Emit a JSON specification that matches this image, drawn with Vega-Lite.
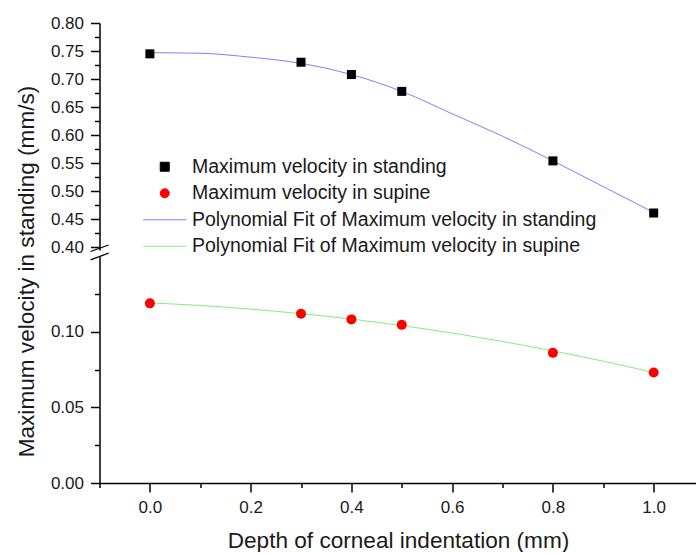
{
  "$schema": "https://vega.github.io/schema/vega-lite/v6.json",
  "padding": {"top": 14, "left": 14.5, "right": 0, "bottom": 0},
  "background": "white",
  "config": {
    "view": {"stroke": null},
    "font": "Liberation Sans",
    "axis": {
      "grid": false,
      "domainColor": "#000000",
      "domainWidth": 1.5,
      "tickColor": "#000000",
      "tickWidth": 1.5,
      "labelFont": "Liberation Sans",
      "labelFontSize": 17,
      "labelColor": "#1a1a1a",
      "labelPadding": 7,
      "labelOverlap": false,
      "labelBound": false,
      "titleFont": "Liberation Sans",
      "titleFontSize": 22.6,
      "titleFontWeight": "normal",
      "titleColor": "#1a1a1a"
    }
  },
  "datasets": {
    "standingPoints": [
      {"depth": 0.0, "velocity": 0.745, "series": "Maximum velocity in standing"},
      {"depth": 0.3, "velocity": 0.730, "series": "Maximum velocity in standing"},
      {"depth": 0.4, "velocity": 0.708, "series": "Maximum velocity in standing"},
      {"depth": 0.5, "velocity": 0.678, "series": "Maximum velocity in standing"},
      {"depth": 0.8, "velocity": 0.554, "series": "Maximum velocity in standing"},
      {"depth": 1.0, "velocity": 0.461, "series": "Maximum velocity in standing"}
    ],
    "standingFit": [
      {"depth": 0.0, "velocity": 0.747, "series": "Polynomial Fit of Maximum velocity in standing"},
      {"depth": 0.1, "velocity": 0.746, "series": "Polynomial Fit of Maximum velocity in standing"},
      {"depth": 0.2, "velocity": 0.739, "series": "Polynomial Fit of Maximum velocity in standing"},
      {"depth": 0.3, "velocity": 0.728, "series": "Polynomial Fit of Maximum velocity in standing"},
      {"depth": 0.4, "velocity": 0.708, "series": "Polynomial Fit of Maximum velocity in standing"},
      {"depth": 0.5, "velocity": 0.678, "series": "Polynomial Fit of Maximum velocity in standing"},
      {"depth": 0.6, "velocity": 0.638, "series": "Polynomial Fit of Maximum velocity in standing"},
      {"depth": 0.7, "velocity": 0.598, "series": "Polynomial Fit of Maximum velocity in standing"},
      {"depth": 0.8, "velocity": 0.554, "series": "Polynomial Fit of Maximum velocity in standing"},
      {"depth": 0.9, "velocity": 0.508, "series": "Polynomial Fit of Maximum velocity in standing"},
      {"depth": 1.0, "velocity": 0.462, "series": "Polynomial Fit of Maximum velocity in standing"}
    ],
    "supinePoints": [
      {"depth": 0.0, "velocity": 0.1187, "series": "Maximum velocity in supine"},
      {"depth": 0.3, "velocity": 0.1118, "series": "Maximum velocity in supine"},
      {"depth": 0.4, "velocity": 0.1081, "series": "Maximum velocity in supine"},
      {"depth": 0.5, "velocity": 0.1045, "series": "Maximum velocity in supine"},
      {"depth": 0.8, "velocity": 0.0860, "series": "Maximum velocity in supine"},
      {"depth": 1.0, "velocity": 0.0730, "series": "Maximum velocity in supine"}
    ],
    "supineFit": [
      {"depth": 0.0, "velocity": 0.1190, "series": "Polynomial Fit of Maximum velocity in supine"},
      {"depth": 0.1, "velocity": 0.1173, "series": "Polynomial Fit of Maximum velocity in supine"},
      {"depth": 0.2, "velocity": 0.1149, "series": "Polynomial Fit of Maximum velocity in supine"},
      {"depth": 0.3, "velocity": 0.1119, "series": "Polynomial Fit of Maximum velocity in supine"},
      {"depth": 0.4, "velocity": 0.1083, "series": "Polynomial Fit of Maximum velocity in supine"},
      {"depth": 0.5, "velocity": 0.1040, "series": "Polynomial Fit of Maximum velocity in supine"},
      {"depth": 0.6, "velocity": 0.0991, "series": "Polynomial Fit of Maximum velocity in supine"},
      {"depth": 0.7, "velocity": 0.0935, "series": "Polynomial Fit of Maximum velocity in supine"},
      {"depth": 0.8, "velocity": 0.0873, "series": "Polynomial Fit of Maximum velocity in supine"},
      {"depth": 0.9, "velocity": 0.0805, "series": "Polynomial Fit of Maximum velocity in supine"},
      {"depth": 1.0, "velocity": 0.0730, "series": "Polynomial Fit of Maximum velocity in supine"}
    ],
    "breakTop": [
      {"depth": -0.1177, "velocity": 0.3923, "depth2": -0.0819, "velocity2": 0.4039}
    ],
    "breakBottom": [
      {"depth": -0.1177, "velocity": 0.1475, "depth2": -0.0819, "velocity2": 0.1519}
    ]
  },
  "bounds": "flush",
  "spacing": 6,
  "resolve": {"scale": {"x": "independent", "y": "independent", "fill": "independent", "stroke": "independent", "shape": "independent"}},
  "vconcat": [
    {
      "width": 597,
      "height": 227,
      "encoding": {
        "x": {"field": "depth", "type": "quantitative", "scale": {"domain": [-0.1, 1.085], "nice": false, "zero": false}, "axis": null},
        "y": {
          "field": "velocity", "type": "quantitative",
          "scale": {"domain": [0.395, 0.80], "nice": false, "zero": false},
          "axis": {
            "title": "Maximum velocity in standing (mm/s)",
            "values": [0.4, 0.425, 0.45, 0.475, 0.5, 0.525, 0.55, 0.575, 0.6, 0.625, 0.65, 0.675, 0.7, 0.725, 0.75, 0.775, 0.8],
            "labelExpr": "abs(datum.value*20 - round(datum.value*20)) < 0.01 ? format(datum.value, '.2f') : ''",
            "tickSize": {"condition": {"test": "abs(datum.value*20 - round(datum.value*20)) < 0.01", "value": 9}, "value": 5},
            "titleAngle": 270, "titleAlign": "center", "titleBaseline": "alphabetic",
            "titleX": -66, "titleY": 248
          }
        }
      },
      "layer": [
        {
          "data": {"name": "standingFit"},
          "mark": {"type": "line", "strokeWidth": 1, "interpolate": "monotone"},
          "encoding": {
            "stroke": {
              "field": "series", "type": "nominal",
              "scale": {
                "domain": ["Maximum velocity in standing", "Maximum velocity in supine", "Polynomial Fit of Maximum velocity in standing", "Polynomial Fit of Maximum velocity in supine"],
                "range": ["#000000", "#ff0000", "#7f7fff", "#80f080"]
              },
              "legend": {
                "orient": "none", "legendX": 43.5, "legendY": 134, "title": null,
                "labelFont": "Liberation Sans", "labelFontSize": 19.5, "labelColor": "#1a1a1a", "labelLimit": 600,
                "symbolSize": 81, "symbolStrokeWidth": 1, "symbolOffset": 12, "labelOffset": 17.5,
                "rowPadding": 5.5, "padding": 0
              }
            }
          }
        },
        {
          "data": {"name": "standingPoints"},
          "mark": {"type": "point", "filled": true, "opacity": 1, "size": 81, "strokeWidth": 0},
          "encoding": {
            "fill": {
              "field": "series", "type": "nominal",
              "scale": {
                "domain": ["Maximum velocity in standing", "Maximum velocity in supine", "Polynomial Fit of Maximum velocity in standing", "Polynomial Fit of Maximum velocity in supine"],
                "range": ["#000000", "#ff0000", "#7f7fff", "#80f080"]
              }
            },
            "shape": {
              "field": "series", "type": "nominal",
              "scale": {
                "domain": ["Maximum velocity in standing", "Maximum velocity in supine", "Polynomial Fit of Maximum velocity in standing", "Polynomial Fit of Maximum velocity in supine"],
                "range": ["square", "circle", "M-4.8,0H4.8", "M-4.8,0H4.8"]
              }
            }
          }
        },
        {
          "data": {"name": "breakTop"},
          "mark": {"type": "rule", "color": "#000000", "strokeWidth": 1.3},
          "encoding": {
            "x2": {"field": "depth2"},
            "y2": {"field": "velocity2"}
          }
        }
      ]
    },
    {
      "width": 597,
      "height": 227,
      "encoding": {
        "x": {
          "field": "depth", "type": "quantitative",
          "scale": {"domain": [-0.1, 1.085], "nice": false, "zero": false},
          "axis": {
            "title": "Depth of corneal indentation (mm)",
            "values": [-0.1, 0, 0.1, 0.2, 0.3, 0.4, 0.5, 0.6, 0.7, 0.8, 0.9, 1.0],
            "labelExpr": "datum.value >= 0 && abs(datum.value*5 - round(datum.value*5)) < 0.01 ? format(datum.value, '.1f') : ''",
            "tickSize": {"condition": {"test": "datum.value >= 0 && abs(datum.value*5 - round(datum.value*5)) < 0.01", "value": 9}, "value": 4.5},
            "labelPadding": 7,
            "titlePadding": 14
          }
        },
        "y": {
          "field": "velocity", "type": "quantitative",
          "scale": {"domain": [0, 0.15], "nice": false, "zero": false},
          "axis": {
            "title": null,
            "values": [0, 0.025, 0.05, 0.075, 0.1, 0.125],
            "labelExpr": "abs(datum.value*20 - round(datum.value*20)) < 0.01 ? format(datum.value, '.2f') : ''",
            "tickSize": {"condition": {"test": "abs(datum.value*20 - round(datum.value*20)) < 0.01", "value": 9}, "value": 5}
          }
        }
      },
      "layer": [
        {
          "data": {"name": "supineFit"},
          "mark": {"type": "line", "strokeWidth": 1, "interpolate": "monotone"},
          "encoding": {
            "stroke": {
              "field": "series", "type": "nominal",
              "scale": {
                "domain": ["Maximum velocity in standing", "Maximum velocity in supine", "Polynomial Fit of Maximum velocity in standing", "Polynomial Fit of Maximum velocity in supine"],
                "range": ["#000000", "#ff0000", "#7f7fff", "#80f080"]
              },
              "legend": null
            }
          }
        },
        {
          "data": {"name": "supinePoints"},
          "mark": {"type": "point", "filled": true, "opacity": 1, "size": 100, "strokeWidth": 0},
          "encoding": {
            "fill": {
              "field": "series", "type": "nominal",
              "scale": {
                "domain": ["Maximum velocity in standing", "Maximum velocity in supine", "Polynomial Fit of Maximum velocity in standing", "Polynomial Fit of Maximum velocity in supine"],
                "range": ["#000000", "#ff0000", "#7f7fff", "#80f080"]
              },
              "legend": null
            },
            "shape": {
              "field": "series", "type": "nominal",
              "scale": {
                "domain": ["Maximum velocity in standing", "Maximum velocity in supine", "Polynomial Fit of Maximum velocity in standing", "Polynomial Fit of Maximum velocity in supine"],
                "range": ["square", "circle", "M-4.8,0H4.8", "M-4.8,0H4.8"]
              },
              "legend": null
            }
          }
        },
        {
          "data": {"name": "breakBottom"},
          "mark": {"type": "rule", "color": "#000000", "strokeWidth": 1.3},
          "encoding": {
            "x2": {"field": "depth2"},
            "y2": {"field": "velocity2"}
          }
        }
      ]
    }
  ]
}
